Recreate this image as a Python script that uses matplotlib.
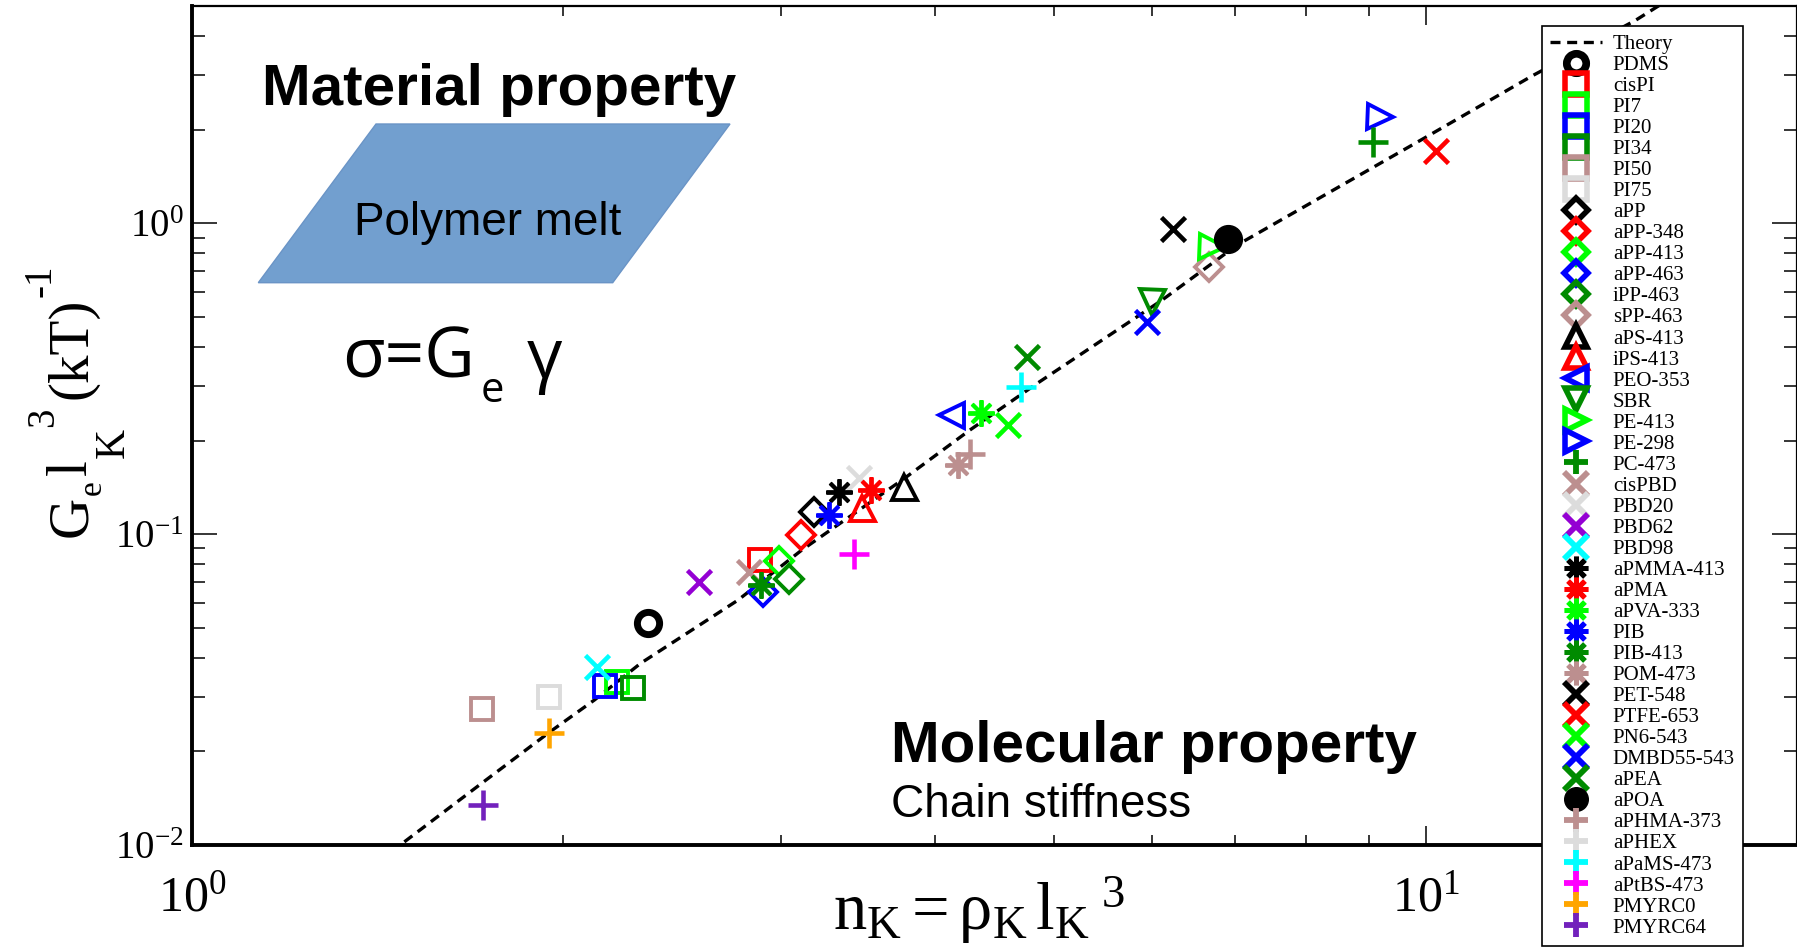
import numpy as np
import matplotlib
matplotlib.use("Agg")
import matplotlib.pyplot as plt
from matplotlib.lines import Line2D
from matplotlib.patches import Polygon
from matplotlib.font_manager import FontProperties
from matplotlib.ticker import LogLocator, NullFormatter

# ---------------- data ----------------
series = ["PDMS", "cisPI", "PI7", "PI20", "PI34", "PI50", "PI75",
          "aPP", "aPP-348", "aPP-413", "aPP-463", "iPP-463", "sPP-463",
          "aPS-413", "iPS-413", "PEO-353", "SBR", "PE-413", "PE-298", "PC-473",
          "cisPBD", "PBD20", "PBD62", "PBD98",
          "aPMMA-413", "aPMA", "aPVA-333", "PIB", "PIB-413", "POM-473",
          "PET-548", "PTFE-653", "PN6-543", "DMBD55-543", "aPEA", "aPOA",
          "aPHMA-373", "aPHEX", "aPaMS-473", "aPtBS-473", "PMYRC0", "PMYRC64"]

n_K = [2.344, 2.887, 2.21, 2.162, 2.278, 1.718, 1.947,
       3.195, 3.117, 2.993, 2.901, 3.050, 6.68,
       3.778, 3.492, 4.123, 6.006, 6.71, 9.19, 9.07,
       2.827, 3.474, 2.575, 2.129,
       3.348, 3.551, 4.358, 3.285, 2.892, 4.178,
       6.24, 10.19, 4.59, 5.95, 4.75, 6.91,
       4.27, np.nan, 4.70, 3.442, 1.947, 1.72]

G_e = [0.0516, 0.0825, 0.0335, 0.0325, 0.0319, 0.0273, 0.0300,
       0.1179, 0.0993, 0.0820, 0.0653, 0.0715, 0.724,
       0.1419, 0.121, 0.2413, 0.558, 0.839, 2.20, 1.825,
       0.0756, 0.1514, 0.0703, 0.0373,
       0.1368, 0.1384, 0.2445, 0.1151, 0.0686, 0.1667,
       0.961, 1.708, 0.224, 0.482, 0.372, 0.893,
       0.181, np.nan, 0.298, 0.0862, 0.0229, 0.01345]

theory_x = [1.45, 1.71, 1.95, 2.12, 2.31, 2.77, 3.12, 3.77, 4.27,
            4.84, 6.11, 7.03, 10.0, 12.2, 14.8, 16.5]
theory_y = [0.0095, 0.0156, 0.0231, 0.0293, 0.0384, 0.0613, 0.0888,
            0.150, 0.216, 0.305, 0.565, 0.85, 1.89, 2.98, 4.5, 5.9]

# ---------------- styles ----------------
BLACK, RED, LIME, BLUE = "#000000", "#FF0000", "#00FF00", "#0000FF"
GREEN4, BROWN, GREY = "#008B00", "#BC8F8F", "#DCDCDC"
VIOLET, CYAN, MAGENTA, ORANGE, INDIGO = "#9400D3", "#00FFFF", "#FF00FF", "#FFA500", "#7221BC"
STAR = (8, 2, 0)

colors = [BLACK, RED, LIME, BLUE, GREEN4, BROWN, GREY,
          BLACK, RED, LIME, BLUE, GREEN4, BROWN,
          BLACK, RED, BLUE, GREEN4, LIME, BLUE, GREEN4,
          BROWN, GREY, VIOLET, CYAN,
          BLACK, RED, LIME, BLUE, GREEN4, BROWN,
          BLACK, RED, LIME, BLUE, GREEN4, BLACK,
          BROWN, GREY, CYAN, MAGENTA, ORANGE, INDIGO]
markers = ["o", "s", "s", "s", "s", "s", "s",
           "D", "D", "D", "D", "D", "D",
           "^", "^", "<", "v", ">", ">", "+",
           "x", "x", "x", "x",
           STAR, STAR, STAR, STAR, STAR, STAR,
           "x", "x", "x", "x", "x", "o",
           "+", "+", "+", "+", "+", "+"]


def style_for(mk, filled):
    if isinstance(mk, tuple):
        return 19, 2.8
    if mk == "o":
        return (20, 1.0) if filled else (16, 5.0)
    return {"s": (16, 2.8), "D": (14, 2.8), "^": (18, 2.8), "<": (18, 2.8),
            "v": (18, 2.8), ">": (18, 2.8), "+": (21, 3.3), "x": (17, 3.3)}[mk]


plt.rcParams["font.family"] = "Liberation Serif"
plt.rcParams["mathtext.fontset"] = "custom"
plt.rcParams["mathtext.rm"] = "Liberation Serif"
plt.rcParams["mathtext.it"] = "Liberation Serif:italic"
plt.rcParams["mathtext.bf"] = "Liberation Serif:bold"

W, H = 1797, 948
fig = plt.figure(figsize=(W / 100, H / 100), dpi=100)
ax = fig.add_axes([192 / W, 103 / H, (W - 192) / W, (845 - 6) / H])
ax.set_xscale("log")
ax.set_yscale("log")
ax.set_xlim(1, 20)
ax.set_ylim(0.01, 5)

theory_line, = ax.plot(theory_x, theory_y, color="black", lw=2.4,
                       dashes=(3, 2), zorder=2, label="Theory")

handles = [theory_line]
for name, xv, yv, mk, col in zip(series, n_K, G_e, markers, colors):
    filled = name == "aPOA"
    ms, mew = style_for(mk, filled)
    ax.plot([xv], [yv], linestyle="none", marker=mk, ms=ms,
            mec=col, mfc=(col if filled else "none"), mew=mew, zorder=3)
    if isinstance(mk, tuple):
        lms, lmew = 17, 3.6
    elif mk == "o":
        lms, lmew = (17, 1.0) if filled else (14, 5.5)
    elif mk == "D":
        lms, lmew = 12, 4.0
    elif mk in ("+", "x"):
        lms, lmew = 17, 4.2
    else:
        lms, lmew = 15.5, 4.0
    h = Line2D([], [], linestyle="none", marker=mk, ms=lms, mec=col,
               mfc=(col if filled else "none"), mew=lmew, label=name)
    handles.append(h)

for side in ("left", "bottom"):
    ax.spines[side].set_linewidth(2.8)
for side in ("top", "right"):
    ax.spines[side].set_linewidth(1.6)

ax.xaxis.set_major_locator(LogLocator(base=10, numticks=10))
ax.xaxis.set_minor_locator(LogLocator(base=10, subs=np.arange(2, 10), numticks=10))
ax.yaxis.set_major_locator(LogLocator(base=10, numticks=10))
ax.yaxis.set_minor_locator(LogLocator(base=10, subs=np.arange(2, 10), numticks=10))
ax.xaxis.set_minor_formatter(NullFormatter())
ax.yaxis.set_minor_formatter(NullFormatter())

ax.tick_params(axis="both", which="both", direction="in", top=True, right=True,
               width=1.1, color="black")
ax.tick_params(axis="y", which="major", length=18, pad=6, labelsize=28)
ax.tick_params(axis="y", which="minor", length=9.5)
ax.tick_params(axis="x", which="major", length=14, pad=22, labelsize=36)
ax.tick_params(axis="x", which="minor", length=7)

renderer = fig.canvas.get_renderer()

# y-axis label built from pieces: (text, size, baseline shift px (+ = lower), gap before px)
ylabel_pieces = [("G", 41, 0, 0), ("e", 24, 15, 1), ("l", 41, 0, 5),
                 ("K", 30, 38, 1), ("3", 28, -33, 1), ("(kT)", 41, 0, 9),
                 ("-1", 28, -35, 1)]
base_x, pos = 86, 537
for s, size, dx, gap in ylabel_pieces:
    pos -= gap
    fp = FontProperties(family="Liberation Serif", size=size)
    w, _, _ = renderer.get_text_width_height_descent(s, fp, ismath=False)
    fig.text((base_x + dx) / W, 1 - pos / H, s, fontproperties=fp,
             rotation=90, rotation_mode="anchor", ha="left", va="baseline")
    pos -= w

fig.text(833 / W, 1 - 930 / H, r"$\mathregular{n_K = ρ_K\, l_K{}^{\ 3}}$",
         ha="left", va="baseline", fontsize=48)

# legend
leg = ax.legend(handles=handles, loc="upper left",
                bbox_to_anchor=(1542 / W, 1 - 26 / H),
                bbox_transform=fig.transFigure,
                fontsize=15, frameon=True, fancybox=False, framealpha=1,
                edgecolor="black", borderpad=0.4, labelspacing=0.07,
                handlelength=2.5, handletextpad=0.5, borderaxespad=0,
                numpoints=1)
leg.get_frame().set_linewidth(1.2)
leg.set_zorder(10)

# annotations
fig.text(262 / W, 1 - 105 / H, "Material property", family="Liberation Sans",
         fontweight="bold", fontsize=42, ha="left", va="baseline")
para = Polygon([[376 / W, 1 - 124 / H], [730 / W, 1 - 124 / H],
                [612.7 / W, 1 - 282.7 / H], [258.3 / W, 1 - 282.7 / H]],
               closed=True, transform=fig.transFigure, facecolor="#729FCF",
               edgecolor="#6A94C6", linewidth=1, zorder=5)
fig.patches.append(para)
fig.text(488 / W, 1 - 235 / H, "Polymer melt", family="Liberation Sans",
         fontsize=33, ha="center", va="baseline", zorder=6)

t1 = fig.text(342 / W, 1 - 378 / H, "σ=G", family="Open Sans",
              fontsize=50, ha="left", va="baseline")
x_end = t1.get_window_extent(renderer).x1
t2 = fig.text((x_end + 6) / W, 1 - 402 / H, "e", family="Open Sans",
              fontsize=30, ha="left", va="baseline")
x_end2 = t2.get_window_extent(renderer).x1
fig.text((x_end2 + 22) / W, 1 - 378 / H, "γ", family="Open Sans",
         fontsize=50, ha="left", va="baseline")

fig.text(891 / W, 1 - 762 / H, "Molecular property", family="Liberation Sans",
         fontweight="bold", fontsize=42, ha="left", va="baseline")
fig.text(891 / W, 1 - 817 / H, "Chain stiffness", family="Liberation Sans",
         fontsize=33, ha="left", va="baseline")

fig.savefig("out.png", dpi=100)
